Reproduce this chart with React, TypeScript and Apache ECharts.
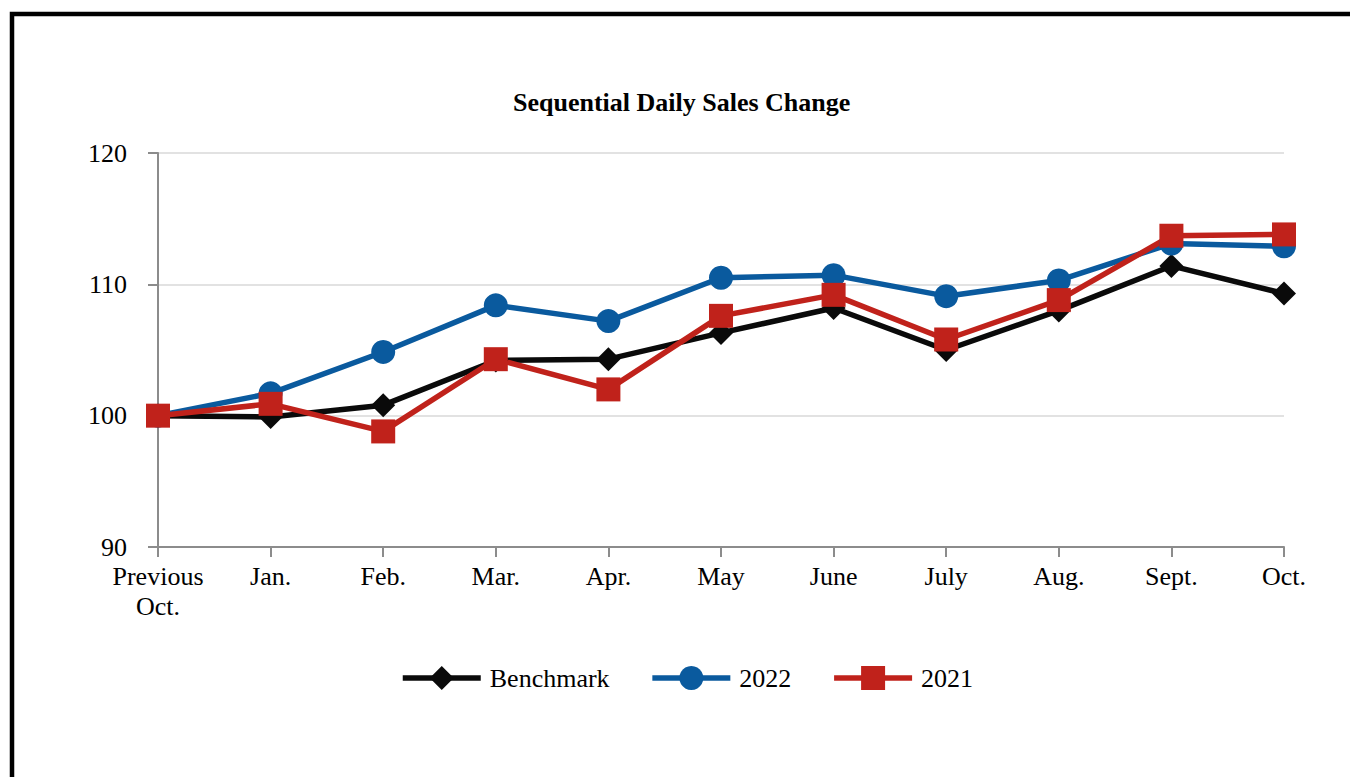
import React, { useEffect, useRef } from "react";
import * as echarts from "echarts";

const categories = ["Previous\nOct.", "Jan.", "Feb.", "Mar.", "Apr.", "May", "June", "July", "Aug.", "Sept.", "Oct."];
const benchmark = [100, 99.9, 100.8, 104.2, 104.3, 106.3, 108.2, 105.0, 108.0, 111.4, 109.3];
const y2022 = [100, 101.7, 104.85, 108.4, 107.2, 110.5, 110.7, 109.1, 110.3, 113.1, 112.9];
const y2021 = [100, 100.9, 98.8, 104.3, 102.0, 107.6, 109.2, 105.8, 108.8, 113.7, 113.8];
const yTicks = [90, 100, 110, 120];

const FONT = "'Liberation Serif', 'Times New Roman', serif";

export default function App() {
  const ref = useRef<HTMLDivElement>(null);
  useEffect(() => {
    if (!ref.current) return;
    const chart = echarts.init(ref.current, undefined, { renderer: "svg" });
    const mk = (name: string, data: number[], color: string, symbol: string, size: number) => ({
      name,
      type: "line",
      data,
      symbol,
      symbolSize: size,
      showAllSymbol: true,
      lineStyle: { color, width: 5.5 },
      itemStyle: { color },
      z: 3,
    });
    chart.setOption({
      animation: false,
      backgroundColor: "#ffffff",
      textStyle: { fontFamily: FONT },
      title: {
        text: "Sequential Daily Sales Change",
        left: 508,
        top: 84,
        textStyle: { fontFamily: FONT, fontWeight: "bold", fontSize: 26, color: "#000" },
      },
      graphic: [
        {
          type: "rect",
          shape: { x: 12, y: 14, width: 1400, height: 800 },
          style: { fill: "none", stroke: "#000", lineWidth: 4.5 },
          silent: true,
        },
      ],
      grid: { left: 158, right: 66, top: 153, bottom: 230, containLabel: false },
      legend: {
        left: 395,
        top: 660,
        itemWidth: 78,
        itemHeight: 30,
        itemGap: 40,
        lineStyle: { width: 5.5 },
        textStyle: { fontFamily: FONT, fontSize: 26, color: "#000", padding: [0, 0, 0, 4] },
        data: ["Benchmark", "2022", "2021"],
      },
      xAxis: {
        type: "category",
        data: categories,
        boundaryGap: false,
        axisLine: { lineStyle: { color: "#8c8c8c", width: 2 } },
        axisTick: { show: true, length: 10, alignWithLabel: true, lineStyle: { color: "#8c8c8c", width: 2 } },
        axisLabel: { fontFamily: FONT, fontSize: 26, color: "#000", margin: 14, lineHeight: 30, interval: 0 },
        splitLine: { show: false },
      },
      yAxis: {
        type: "value",
        min: yTicks[0],
        max: yTicks[yTicks.length - 1],
        interval: 10,
        axisLine: { show: true, lineStyle: { color: "#8c8c8c", width: 2 } },
        axisTick: { show: true, length: 10, lineStyle: { color: "#8c8c8c", width: 2 } },
        axisLabel: { fontFamily: FONT, fontSize: 26, color: "#000", margin: 31 },
        splitLine: { show: true, lineStyle: { color: "#e2e2e2", width: 2 } },
      },
      series: [
        mk("Benchmark", benchmark, "#0a0a0a", "diamond", 24),
        mk("2022", y2022, "#0a5a9e", "circle", 24),
        mk("2021", y2021, "#c0221b", "rect", 24),
      ],
    });
    return () => chart.dispose();
  }, []);
  return <div ref={ref} style={{ position: "absolute", left: 0, top: 0, width: 1350, height: 777 }} />;
}
